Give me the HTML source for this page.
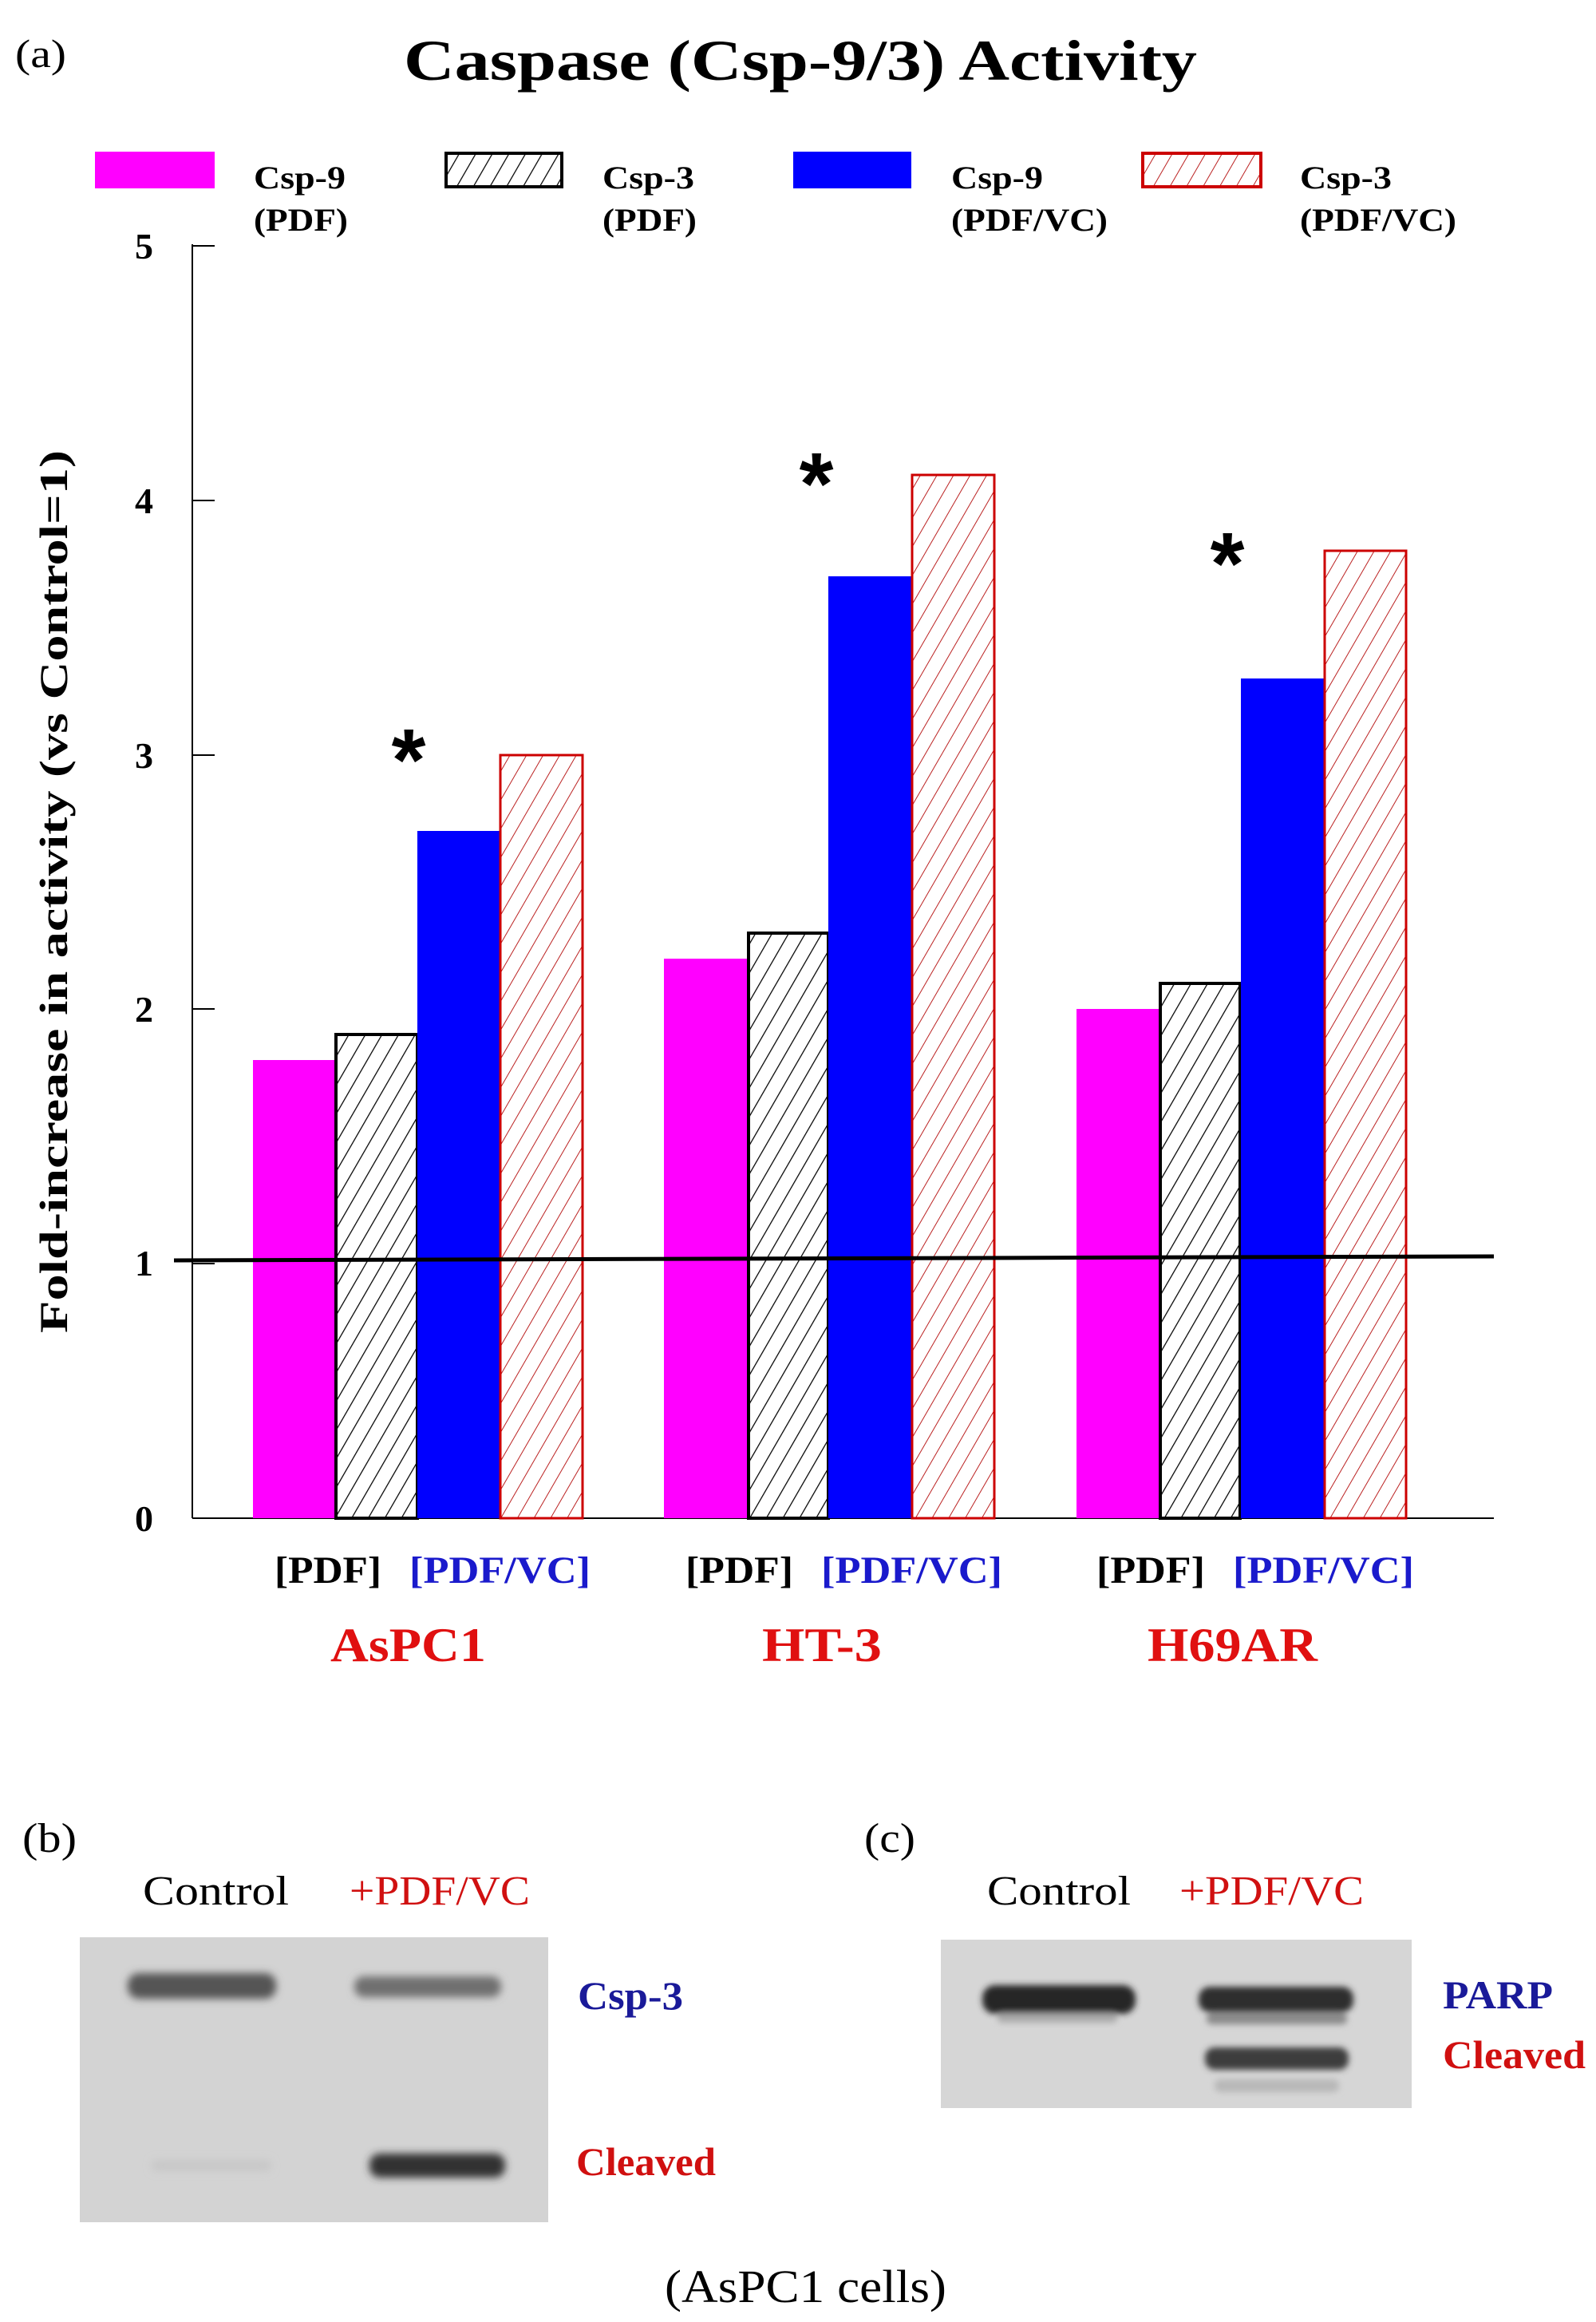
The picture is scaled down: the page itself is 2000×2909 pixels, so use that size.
<!DOCTYPE html>
<html><head><meta charset="utf-8"><style>html,body{margin:0;padding:0;background:#fff}svg{display:block}</style></head>
<body>
<svg width="2000" height="2909" viewBox="0 0 2000 2909" xmlns="http://www.w3.org/2000/svg" font-family="Liberation Serif, serif" font-weight="bold">
<defs>
<pattern id="hk" patternUnits="userSpaceOnUse" width="18" height="18" patternTransform="rotate(30)">
<rect width="18" height="18" fill="#fff"/><line x1="0" y1="0" x2="0" y2="18" stroke="#000" stroke-width="2.5"/></pattern>
<pattern id="hr" patternUnits="userSpaceOnUse" width="18" height="18" patternTransform="rotate(30)">
<rect width="18" height="18" fill="#fff"/><line x1="0" y1="0" x2="0" y2="18" stroke="#b22" stroke-width="2"/></pattern>
<filter id="bl" x="-20%" y="-100%" width="140%" height="300%"><feGaussianBlur stdDeviation="5"/></filter>
<filter id="bl2" x="-20%" y="-100%" width="140%" height="300%"><feGaussianBlur stdDeviation="4"/></filter>
</defs>

<text x="19" y="84" font-size="50" font-weight="normal" textLength="64" lengthAdjust="spacingAndGlyphs">(a)</text>
<text x="506" y="100" font-size="72" textLength="994" lengthAdjust="spacingAndGlyphs">Caspase (Csp-9/3) Activity</text>

<rect x="119" y="190" width="150" height="46" fill="#f0f"/>
<rect x="559" y="192" width="145" height="42" fill="url(#hk)" stroke="#000" stroke-width="4"/>
<rect x="994" y="190" width="148" height="46" fill="#00f"/>
<rect x="1432" y="192" width="148" height="42" fill="url(#hr)" stroke="#c00" stroke-width="4"/>
<g font-size="40">
<text x="318" y="236" textLength="115" lengthAdjust="spacingAndGlyphs">Csp-9</text>
<text x="318" y="289" textLength="118" lengthAdjust="spacingAndGlyphs">(PDF)</text>
<text x="755" y="236" textLength="115" lengthAdjust="spacingAndGlyphs">Csp-3</text>
<text x="755" y="289" textLength="118" lengthAdjust="spacingAndGlyphs">(PDF)</text>
<text x="1192" y="236" textLength="115" lengthAdjust="spacingAndGlyphs">Csp-9</text>
<text x="1192" y="289" textLength="196" lengthAdjust="spacingAndGlyphs">(PDF/VC)</text>
<text x="1629" y="236" textLength="115" lengthAdjust="spacingAndGlyphs">Csp-3</text>
<text x="1629" y="289" textLength="196" lengthAdjust="spacingAndGlyphs">(PDF/VC)</text>
</g>

<line x1="241" y1="306" x2="241" y2="1902" stroke="#000" stroke-width="2"/>
<line x1="241" y1="1902" x2="1872" y2="1902" stroke="#000" stroke-width="2"/>
<g stroke="#000" stroke-width="2">
<line x1="241" y1="308" x2="269" y2="308"/><line x1="241" y1="627" x2="269" y2="627"/>
<line x1="241" y1="946" x2="269" y2="946"/><line x1="241" y1="1264" x2="269" y2="1264"/>
<line x1="241" y1="1583" x2="269" y2="1583"/>
</g>
<g font-size="46" text-anchor="end">
<text x="192" y="324">5</text><text x="192" y="643">4</text><text x="192" y="962">3</text>
<text x="192" y="1280">2</text><text x="192" y="1598">1</text><text x="192" y="1918">0</text>
</g>
<text transform="translate(84,1117) rotate(-90)" font-size="50" text-anchor="middle" textLength="1106" lengthAdjust="spacingAndGlyphs">Fold-increase in activity (vs Control=1)</text>

<g>
<rect x="317" y="1328" width="102" height="574" fill="#f0f"/>
<rect x="421" y="1296" width="102" height="606" fill="url(#hk)" stroke="#000" stroke-width="4"/>
<rect x="523" y="1041" width="103" height="861" fill="#00f"/>
<rect x="627" y="946" width="103" height="956" fill="url(#hr)" stroke="#c00" stroke-width="3"/>

<rect x="832" y="1201" width="104" height="701" fill="#f0f"/>
<rect x="938" y="1169" width="100" height="733" fill="url(#hk)" stroke="#000" stroke-width="4"/>
<rect x="1038" y="722" width="104" height="1180" fill="#00f"/>
<rect x="1143" y="595" width="103" height="1307" fill="url(#hr)" stroke="#c00" stroke-width="3"/>

<rect x="1349" y="1264" width="103" height="638" fill="#f0f"/>
<rect x="1454" y="1232" width="100" height="670" fill="url(#hk)" stroke="#000" stroke-width="4"/>
<rect x="1555" y="850" width="104" height="1052" fill="#00f"/>
<rect x="1660" y="690" width="102" height="1212" fill="url(#hr)" stroke="#c00" stroke-width="3"/>
</g>
<line x1="218" y1="1579" x2="1872" y2="1574" stroke="#000" stroke-width="5"/>

<g font-size="110" font-family="Liberation Sans, sans-serif" text-anchor="middle">
<text x="512" y="990">*</text><text x="1023" y="644">*</text><text x="1538" y="744">*</text>
</g>

<g font-size="48">
<text x="344" y="1983" textLength="134" lengthAdjust="spacingAndGlyphs">[PDF]</text>
<text x="513" y="1983" fill="#1a1acc" textLength="227" lengthAdjust="spacingAndGlyphs">[PDF/VC]</text>
<text x="859" y="1983" textLength="135" lengthAdjust="spacingAndGlyphs">[PDF]</text>
<text x="1029" y="1983" fill="#1a1acc" textLength="227" lengthAdjust="spacingAndGlyphs">[PDF/VC]</text>
<text x="1374" y="1983" textLength="136" lengthAdjust="spacingAndGlyphs">[PDF]</text>
<text x="1545" y="1983" fill="#1a1acc" textLength="227" lengthAdjust="spacingAndGlyphs">[PDF/VC]</text>
</g>
<g font-size="60" fill="#e01010">
<text x="414" y="2081" textLength="195" lengthAdjust="spacingAndGlyphs">AsPC1</text>
<text x="955" y="2081" textLength="150" lengthAdjust="spacingAndGlyphs">HT-3</text>
<text x="1438" y="2081" textLength="213" lengthAdjust="spacingAndGlyphs">H69AR</text>
</g>

<g font-weight="normal" font-size="52">
<text x="28" y="2320" textLength="68" lengthAdjust="spacingAndGlyphs">(b)</text>
<text x="1083" y="2320" textLength="64" lengthAdjust="spacingAndGlyphs">(c)</text>
<text x="179" y="2386" textLength="183" lengthAdjust="spacingAndGlyphs">Control</text>
<text x="438" y="2386" fill="#d01010" textLength="226" lengthAdjust="spacingAndGlyphs">+PDF/VC</text>
<text x="1237" y="2386" textLength="180" lengthAdjust="spacingAndGlyphs">Control</text>
<text x="1478" y="2386" fill="#d01010" textLength="231" lengthAdjust="spacingAndGlyphs">+PDF/VC</text>
</g>
<rect x="100" y="2427" width="587" height="357" fill="#d3d3d3"/>
<g filter="url(#bl)">
<rect x="160" y="2472" width="186" height="32" rx="14" fill="#555"/>
<rect x="444" y="2476" width="184" height="26" rx="12" fill="#707070"/>
<rect x="463" y="2698" width="170" height="30" rx="13" fill="#333"/>
<rect x="190" y="2706" width="150" height="14" rx="6" fill="#c8c8c8"/>
</g>
<text x="724" y="2517" font-size="50" fill="#1a1a99" textLength="132" lengthAdjust="spacingAndGlyphs">Csp-3</text>
<text x="722" y="2725" font-size="50" fill="#d01010" textLength="175" lengthAdjust="spacingAndGlyphs">Cleaved</text>

<rect x="1179" y="2430" width="590" height="211" fill="#d6d6d6"/>
<g filter="url(#bl2)">
<rect x="1231" y="2487" width="192" height="36" rx="16" fill="#262626"/>
<rect x="1502" y="2489" width="194" height="32" rx="14" fill="#2e2e2e"/>
<rect x="1512" y="2522" width="176" height="14" rx="6" fill="#8a8a8a"/>
<rect x="1250" y="2522" width="150" height="12" rx="5" fill="#aaa"/>
<rect x="1510" y="2565" width="180" height="28" rx="12" fill="#3e3e3e"/>
<rect x="1522" y="2605" width="156" height="16" rx="7" fill="#b8b8b8"/>
</g>
<text x="1808" y="2516" font-size="50" fill="#1a1a99" textLength="138" lengthAdjust="spacingAndGlyphs">PARP</text>
<text x="1808" y="2591" font-size="50" fill="#d01010" textLength="179" lengthAdjust="spacingAndGlyphs">Cleaved</text>

<text x="833" y="2884" font-size="58" font-weight="normal" textLength="353" lengthAdjust="spacingAndGlyphs">(AsPC1 cells)</text>
</svg>
</body></html>
